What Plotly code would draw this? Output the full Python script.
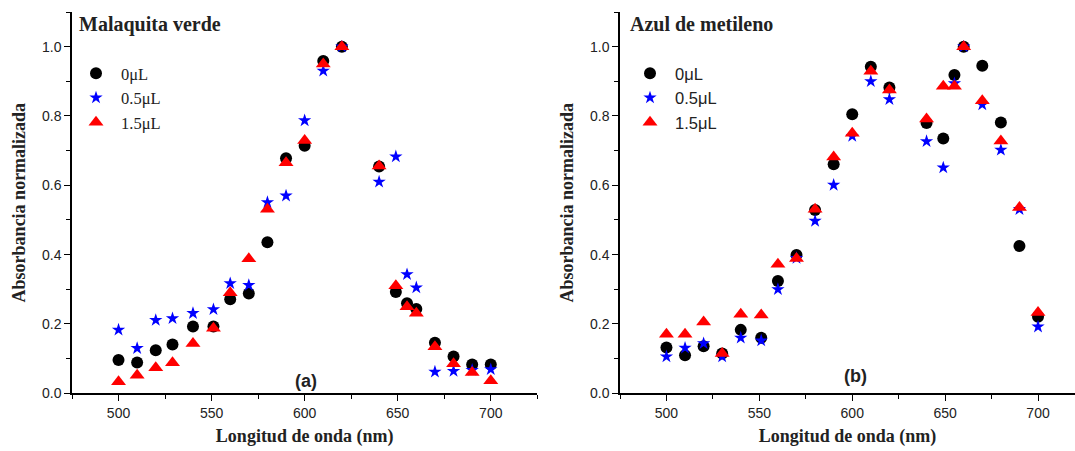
import plotly.graph_objects as go

W, H = 1075, 451

# ---------------- data ----------------
wl_a = [500, 510, 520, 529, 540, 551, 560, 570, 580, 590, 600, 610, 620,
        640, 649, 655, 660, 670, 680, 690, 700]
mv_0 = [0.096, 0.089, 0.124, 0.141, 0.193, 0.193, 0.271, 0.288, 0.436, 0.678, 0.714, 0.959, 1.0,
        0.654, 0.292, 0.260, 0.243, 0.146, 0.106, 0.083, 0.083]
mv_05 = [0.183, 0.130, 0.211, 0.216, 0.231, 0.242, 0.317, 0.312, 0.551, 0.570, 0.787, 0.930, 1.0,
         0.610, 0.683, 0.343, 0.305, 0.062, 0.064, 0.067, 0.069]
mv_15 = [0.033, 0.052, 0.074, 0.088, 0.144, 0.188, 0.290, 0.388, 0.531, 0.665, 0.729, 0.950, 1.0,
         0.656, 0.310, 0.250, 0.231, 0.134, 0.085, 0.060, 0.036]

wl_b = [500, 510, 520, 530, 540, 551, 560, 570, 580, 590, 600, 610, 620,
        640, 649, 655, 660, 670, 680, 690, 700]
am_0 = [0.132, 0.110, 0.136, 0.115, 0.183, 0.160, 0.324, 0.399, 0.529, 0.661, 0.805, 0.942, 0.882,
        0.780, 0.735, 0.918, 1.0, 0.945, 0.781, 0.425, 0.221]
am_05 = [0.106, 0.131, 0.144, 0.106, 0.160, 0.152, 0.300, 0.390, 0.497, 0.601, 0.742, 0.900, 0.848,
         0.727, 0.651, 0.894, 1.0, 0.833, 0.702, 0.531, 0.192]
am_15 = [0.170, 0.170, 0.206, 0.115, 0.228, 0.226, 0.372, 0.389, 0.531, 0.682, 0.750, 0.929, 0.875,
         0.791, 0.886, 0.886, 1.0, 0.844, 0.728, 0.536, 0.233]

series_names = ["0\u03bcL", "0.5\u03bcL", "1.5\u03bcL"]
x_ticks = [500, 550, 600, 650, 700]
y_ticks = [0.0, 0.2, 0.4, 0.6, 0.8, 1.0]

# ---------------- styles ----------------
styles = [
    dict(symbol="circle", color="black", size=12),
    dict(symbol="star", color="blue", size=10),
    dict(symbol="triangle-up", color="red", size=13),
]

fig = go.Figure()
for name, ys, st in zip(series_names, [mv_0, mv_05, mv_15], styles):
    fig.add_trace(go.Scatter(x=wl_a, y=ys, mode="markers", name=name,
                             marker=dict(symbol=st["symbol"], color=st["color"], size=st["size"],
                                         line=dict(width=0)),
                             xaxis="x", yaxis="y", legend="legend"))
for name, ys, st in zip(series_names, [am_0, am_05, am_15], styles):
    fig.add_trace(go.Scatter(x=wl_b, y=ys, mode="markers", name=name,
                             marker=dict(symbol=st["symbol"], color=st["color"], size=st["size"],
                                         line=dict(width=0)),
                             xaxis="x2", yaxis="y2", legend="legend2"))

serif = "Liberation Serif, Times New Roman, serif"
sans = "Liberation Sans, Arial, sans-serif"

def xax(domain, rng):
    return dict(domain=domain, range=rng, tickvals=x_ticks, ticks="outside", ticklen=6,
                tickwidth=1.3, tickcolor="black", showline=True, linecolor="black", linewidth=1.5,
                showgrid=False, zeroline=False, automargin=False,
                tickfont=dict(family=sans, size=14, color="#222"),
                minor=dict(dtick=25, tick0=475, ticks="outside", ticklen=4, tickwidth=1.3,
                           tickcolor="black", showgrid=False),
                title=dict(text="Longitud de onda (nm)", standoff=10,
                           font=dict(family=serif, size=18, color="#222", weight="bold")))

def yax(domain, anchor):
    return dict(domain=domain, range=[0, 1.1], tickvals=y_ticks, tickformat=".1f",
                ticks="outside", ticklen=6, tickwidth=1.3, tickcolor="black", anchor=anchor,
                showline=True, linecolor="black", linewidth=1.5, showgrid=False, zeroline=False,
                automargin=False, tickfont=dict(family=sans, size=14, color="#222"),
                minor=dict(dtick=0.1, tick0=0, ticks="outside", ticklen=4, tickwidth=1.3,
                           tickcolor="black", showgrid=False),
                title=dict(text="Absorbancia normalizada", standoff=12,
                           font=dict(family=serif, size=18, color="#222", weight="bold")))

ydom = [(H - 393.3) / H, (H - 12) / H]
fig.update_layout(
    width=W, height=H, margin=dict(l=0, r=0, t=0, b=0),
    paper_bgcolor="white", plot_bgcolor="white",
    xaxis=xax([72 / W, 537.3 / W], [475, 725]) | dict(anchor="y"),
    yaxis=yax(ydom, "x"),
    xaxis2=xax([620 / W, 1.0], [475, 719.9]) | dict(anchor="y2"),
    yaxis2=yax(ydom, "x2"),
    legend=dict(x=71 / W, y=1 - 56 / H, xanchor="left", yanchor="top", itemwidth=40,
                bgcolor="rgba(0,0,0,0)", font=dict(family=serif, size=16.5, color="#222")),
    legend2=dict(x=625 / W, y=1 - 56 / H, xanchor="left", yanchor="top", itemwidth=40,
                 bgcolor="rgba(0,0,0,0)", font=dict(family=sans, size=16.5, color="#222")),
    showlegend=True,
)

fig.add_annotation(text="Malaquita verde", xref="paper", yref="paper", x=77 / W, y=1 - 25 / H,
                   xanchor="left", yanchor="middle", showarrow=False,
                   font=dict(family=serif, size=20, color="#222", weight="bold"))
fig.add_annotation(text="Azul de metileno", xref="paper", yref="paper", x=628 / W, y=1 - 24 / H,
                   xanchor="left", yanchor="middle", showarrow=False,
                   font=dict(family=serif, size=20, color="#222", weight="bold"))
fig.add_annotation(text="(a)", xref="x", yref="y", x=600.6, y=0.035,
                   xanchor="center", yanchor="middle", showarrow=False,
                   font=dict(family=sans, size=18, color="#222", weight="bold"))
fig.add_annotation(text="(b)", xref="x2", yref="y2", x=601.8, y=0.05,
                   xanchor="center", yanchor="middle", showarrow=False,
                   font=dict(family=sans, size=18, color="#222", weight="bold"))

fig.write_html("out.html")
